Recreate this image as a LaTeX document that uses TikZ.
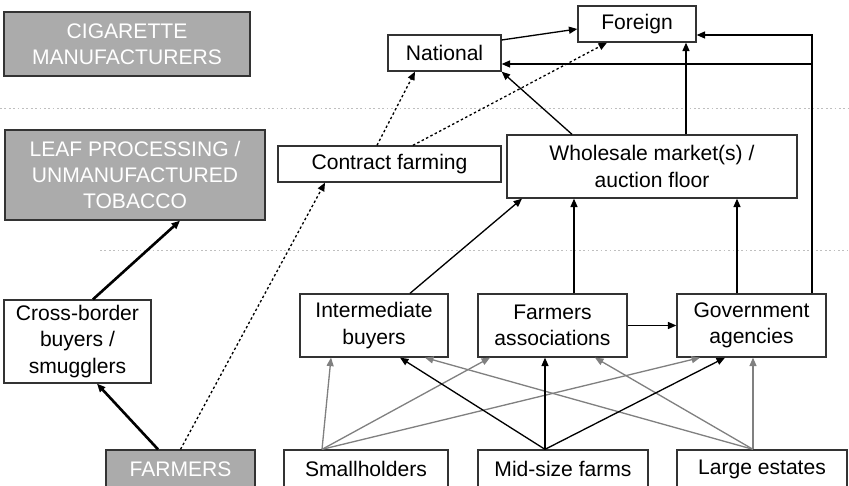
\documentclass[tikz,border=0pt]{standalone}
\usepackage{fontspec}
\setmainfont{Liberation Sans}
\usetikzlibrary{arrows.meta}

\begin{document}
\begin{tikzpicture}[x=0.02cm,y=-0.02cm,
    box/.style={draw=black!80,fill=white,align=center,inner sep=0pt,line width=0.75pt,font=\fontsize{12}{15}\selectfont},
    tier/.style={box,fill=black!33,text=white},
    link/.style={-{Triangle[length=4.8pt,width=4pt]},line width=0.75pt},
    strong/.style={link,line width=1.5pt},
    pale/.style={link,draw=black!50},
    dots/.style={link,dash pattern=on 1.4pt off 1.4pt},
    sep/.style={draw=black!25,dash pattern=on 1pt off 1.5pt,line width=0.5pt}]
    \useasboundingbox (0,0) rectangle (849,486);

    % levels
    \draw[sep] (0,108) -- (849,108);
    \draw[sep] (100,250) -- (849,250);

    % left column
    \node[tier,minimum width=4.92cm,minimum height=1.28cm] (cig) at (127,44) {CIGARETTE\\MANUFACTURERS};
    \node[tier,minimum width=5.2cm,minimum height=1.8cm] (leaf) at (135,175) {LEAF PROCESSING /\\UNMANUFACTURED\\TOBACCO};
    \node[box,minimum width=2.94cm,minimum height=1.66cm] (cross) at (77.5,341.5) {Cross-border\\buyers /\\smugglers};
    \node[tier,minimum width=2.98cm,minimum height=0.76cm] (farmers) at (180.5,469) {FARMERS};

    % markets
    \node[box,minimum width=2.26cm,minimum height=0.72cm] (national) at (444.5,53) {National};
    \node[box,minimum width=2.36cm,minimum height=0.72cm] (foreign) at (637,24) {Foreign};
    \node[box,minimum width=4.46cm,minimum height=0.72cm] (contract) at (389.5,164) {Contract farming};
    \node[box,minimum width=5.8cm,minimum height=1.26cm] (wholesale) at (652,166.5) {Wholesale market(s) /\\auction floor};

    % buyers
    \node[box,minimum width=2.96cm,minimum height=1.26cm] (inter) at (374,325.5) {Intermediate\\buyers};
    \node[box,minimum width=2.98cm,minimum height=1.26cm] (assoc) at (552.5,325.5) {Farmers\\associations};
    \node[box,minimum width=2.98cm,minimum height=1.26cm] (gov) at (751.5,325.5) {Government\\agencies};

    % growers
    \node[box,minimum width=3.28cm,minimum height=0.76cm] (small) at (366,469) {Smallholders};
    \node[box,minimum width=3.4cm,minimum height=0.76cm] (mid) at (563,469) {Mid-size farms};
    \node[box,minimum width=3.4cm,minimum height=0.76cm] (large) at (762,469) {Large estates};

    % smuggling route
    \draw[strong] ([xshift=-0.45cm]farmers.north) -- ([xshift=0.39cm]cross.south);
    \draw[strong] ([xshift=0.31cm]cross.north) -- ([xshift=0.9cm]leaf.south);

    % contract farming
    \draw[dots] (farmers.north) -- ([xshift=-1.29cm]contract.south);
    \draw[dots] ([xshift=-0.25cm]contract.north) -- ([xshift=-0.59cm]national.south);
    \draw[dots] ([xshift=0.47cm]contract.north) -- ([xshift=-0.6cm]foreign.south);

    % to markets
    \draw[link] ([yshift=0.26cm]national.east) -- ([yshift=-0.1cm]foreign.west);
    \draw[link] ([xshift=-1.6cm]wholesale.north) -- (national.south east);
    \coordinate (w1) at ([xshift=0.68cm]wholesale.north);
    \draw[link] (w1) -- (w1 |- foreign.south);
    \coordinate (g1) at ([xshift=1.21cm]gov.north);
    \coordinate (f1) at ([yshift=-0.22cm]foreign.east);
    \coordinate (n1) at ([yshift=-0.22cm]national.east);
    \draw[link] (g1) |- (f1);
    \draw[link] (n1 -| g1) -- (n1);

    % to wholesale
    \draw[link] ([xshift=0.72cm]inter.north) -- ([xshift=-2.6cm]wholesale.south);
    \coordinate (a1) at ([xshift=0.43cm]assoc.north);
    \draw[link] (a1) -- (a1 |- wholesale.south);
    \coordinate (g2) at ([xshift=-0.29cm]gov.north);
    \draw[link] (g2) -- (g2 |- wholesale.south);
    \draw[link] (assoc.east) -- (gov.west);

    % growers to buyers
    \coordinate (s0) at ([xshift=-0.88cm]small.north);
    \coordinate (m0) at ([xshift=-0.36cm]mid.north);
    \coordinate (l0) at ([xshift=-0.18cm]large.north);
    \foreach \t/\dx in {inter/-0.86,assoc/-1.25,gov/-1.03}
        \draw[pale] (s0) -- ([xshift=\dx cm]\t.south);
    \foreach \t/\dx in {inter/1.02,assoc/0.85}
        \draw[pale] (l0) -- ([xshift=\dx cm]\t.south);
    \draw[pale] (l0) -- (l0 |- gov.south);
    \foreach \t/\dx in {inter/0.52,gov/-0.53}
        \draw[link] (m0) -- ([xshift=\dx cm]\t.south);
    \draw[link] (m0) -- (m0 |- assoc.south);
\end{tikzpicture}
\end{document}
